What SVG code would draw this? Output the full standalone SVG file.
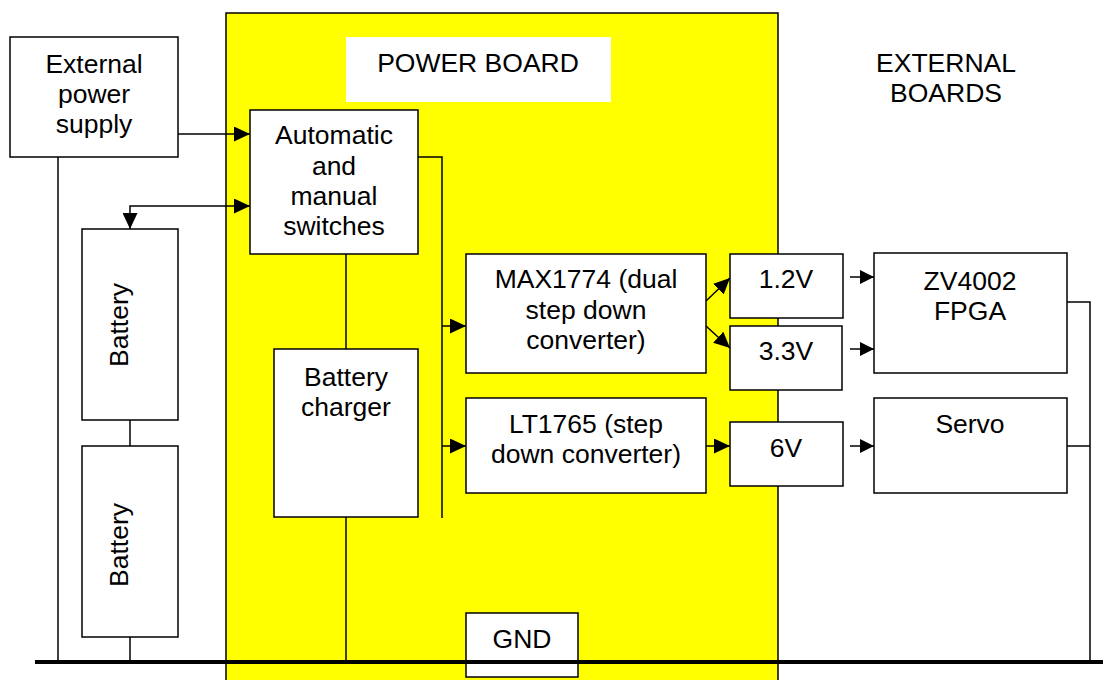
<svg xmlns="http://www.w3.org/2000/svg" width="1103" height="680" viewBox="0 0 1103 680">
<defs>
<marker id="ah" markerUnits="userSpaceOnUse" markerWidth="17" markerHeight="15" refX="16" refY="7.5" orient="auto-start-reverse">
<path d="M0,0 L16,7.5 L0,15 z" fill="#000"/>
</marker>
<marker id="as" markerUnits="userSpaceOnUse" markerWidth="15" markerHeight="14" refX="14" refY="7" orient="auto">
<path d="M0,0 L14,7 L0,14 z" fill="#000"/>
</marker>
<style>
.box{fill:#fff;stroke:#000;stroke-width:1.5}
.t{font-family:"Liberation Sans",Arial,sans-serif;font-size:26.5px;fill:#000;text-anchor:middle}
.c{fill:none;stroke:#000;stroke-width:1.5}
</style>
</defs>
<rect width="1103" height="680" fill="#fff"/>
<g id="power-board">
<rect x="226" y="13" width="552" height="680" fill="#ffff00" stroke="#000" stroke-width="1.5"/>
<rect x="346" y="37" width="265" height="65" fill="#fff"/>
<text class="t" x="478" y="72">POWER BOARD</text>
</g>
<g id="external-boards-label">
<text class="t" x="946" y="72">EXTERNAL</text>
<text class="t" x="946" y="102">BOARDS</text>
</g>
<g id="connectors">
<line x1="35" y1="662" x2="1103" y2="662" stroke="#000" stroke-width="4"/>
<path class="c" d="M58,157 V662"/>
<path class="c" d="M130,420 V446"/>
<path class="c" d="M130,637 V662"/>
<path class="c" d="M346,254 V349"/>
<path class="c" d="M346,517 V662"/>
<path class="c" d="M178,134 H250" marker-end="url(#ah)"/>
<path class="c" d="M130,229 V206 H250" marker-start="url(#ah)" marker-end="url(#ah)"/>
<path class="c" d="M418,157 H442 V518"/>
<path class="c" d="M442,326 H466" marker-end="url(#ah)"/>
<path class="c" d="M442,446 H466" marker-end="url(#ah)"/>
<path class="c" d="M706,301 L730,278" marker-end="url(#ah)"/>
<path class="c" d="M706,326 L730,348" marker-end="url(#ah)"/>
<path class="c" d="M706,446 H730" marker-end="url(#ah)"/>
<path class="c" d="M850,277 H874" marker-end="url(#as)"/>
<path class="c" d="M850,349 H874" marker-end="url(#as)"/>
<path class="c" d="M850,446 H874" marker-end="url(#as)"/>
<path class="c" d="M1067,302 H1090 V662"/>
<path class="c" d="M1067,446 H1090"/>
</g>
<g id="external-power-supply">
<rect class="box" x="10" y="37" width="168" height="120"/>
<text class="t" x="94" y="73">External</text>
<text class="t" x="94" y="103">power</text>
<text class="t" x="94" y="133">supply</text>
</g>
<g id="switches">
<rect class="box" x="250" y="110" width="168" height="144"/>
<text class="t" x="334" y="144">Automatic</text>
<text class="t" x="334" y="175">and</text>
<text class="t" x="334" y="205">manual</text>
<text class="t" x="334" y="235">switches</text>
</g>
<g id="battery1">
<rect class="box" x="82" y="229" width="96" height="191"/>
<text class="t" transform="translate(128,325) rotate(-90)">Battery</text>
</g>
<g id="battery2">
<rect class="box" x="82" y="446" width="96" height="191"/>
<text class="t" transform="translate(128,545) rotate(-90)">Battery</text>
</g>
<g id="battery-charger">
<rect class="box" x="274" y="349" width="144" height="168"/>
<text class="t" x="346" y="386">Battery</text>
<text class="t" x="346" y="416">charger</text>
</g>
<g id="max1774">
<rect class="box" x="466" y="254" width="240" height="119"/>
<text class="t" x="586" y="288">MAX1774 (dual</text>
<text class="t" x="586" y="319">step down</text>
<text class="t" x="586" y="349">converter)</text>
</g>
<g id="lt1765">
<rect class="box" x="466" y="398" width="240" height="95"/>
<text class="t" x="586" y="433">LT1765 (step</text>
<text class="t" x="586" y="463">down converter)</text>
</g>
<g id="v12">
<rect class="box" x="730" y="254" width="113" height="64"/>
<text class="t" x="786" y="288">1.2V</text>
</g>
<g id="v33">
<rect class="box" x="730" y="326" width="112" height="64"/>
<text class="t" x="786" y="360">3.3V</text>
</g>
<g id="v6">
<rect class="box" x="730" y="422" width="113" height="64"/>
<text class="t" x="786" y="457">6V</text>
</g>
<g id="fpga">
<rect class="box" x="874" y="253" width="193" height="120"/>
<text class="t" x="970" y="290">ZV4002</text>
<text class="t" x="970" y="320">FPGA</text>
</g>
<g id="servo">
<rect class="box" x="874" y="398" width="193" height="95"/>
<text class="t" x="970" y="433">Servo</text>
</g>
<g id="gnd">
<rect class="box" x="466" y="613" width="112" height="64"/>
<line x1="466" y1="662" x2="578" y2="662" stroke="#000" stroke-width="4"/>
<text class="t" x="522" y="648">GND</text>
</g>
</svg>
